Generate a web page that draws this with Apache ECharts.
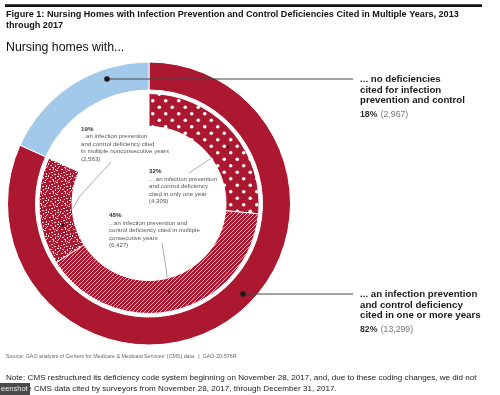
<!DOCTYPE html>
<html>
<head>
<meta charset="utf-8">
<script src="https://cdn.jsdelivr.net/npm/echarts@6/dist/echarts.min.js"></script>
<style>
html,body{margin:0;padding:0;background:#fff;}
#chart{width:500px;height:395px;}
</style>
</head>
<body>
<div id="chart"></div>
<script>
// ---------- data ----------
const titleText = 'Figure 1: Nursing Homes with Infection Prevention and Control Deficiencies Cited in Multiple Years, 2013\nthrough 2017';
const subtitleText = 'Nursing homes with...';
const sourceText = "Source: GAO analysis of Centers for Medicare & Medicaid Services' (CMS) data.  |  GAO-20-576R";
const noteText = 'Note: CMS restructured its deficiency code system beginning on November 28, 2017, and, due to these coding changes, we did not\ninclude CMS data cited by surveyors from November 28, 2017, through December 31, 2017.';

const outerCategories = [
  '... an infection prevention\nand control deficiency\ncited in one or more years',
  '... no deficiencies\ncited for infection\nprevention and control'
];
const outerValues = [13299, 2967];

const innerCategories = [
  '... an infection prevention\nand control deficiency\ncited in only one year',
  '...an infection prevention and\ncontrol deficiency cited in multiple\nconsecutive years',
  '...an infection prevention\nand control deficiency cited\nin multiple nonconsecutive years'
];
const innerValues = [4309, 6427, 2563];

// ---------- styling helpers ----------
const RED = '#AB1830';
const BLUE = '#A2C8EA';
const CX = 149, CY = 203.5;

function makeTile(w, h, draw) {
  const c = document.createElement('canvas');
  c.width = w; c.height = h;
  const ctx = c.getContext('2d');
  ctx.fillStyle = RED;
  ctx.fillRect(0, 0, w, h);
  draw(ctx);
  return c;
}
const dotsTile = makeTile(13, 13, ctx => {
  ctx.fillStyle = '#fff';
  [[3.25, 3.25], [9.75, 9.75]].forEach(p => {
    ctx.beginPath(); ctx.arc(p[0], p[1], 1.8, 0, Math.PI * 2); ctx.fill();
  });
});
const stripeTile = makeTile(4, 4, ctx => {
  ctx.strokeStyle = 'rgba(255,215,222,0.95)';
  ctx.lineWidth = 0.9;
  [[-1, 1, 1, -1], [0, 4, 4, 0], [3, 5, 5, 3]].forEach(s => {
    ctx.beginPath(); ctx.moveTo(s[0], s[1]); ctx.lineTo(s[2], s[3]); ctx.stroke();
  });
});
const speckleTile = makeTile(12, 12, ctx => {
  ctx.fillStyle = 'rgba(255,232,236,0.9)';
  [[1,1,2,1],[5,0,1,2],[8,2,2,1],[10,5,1,2],[3,4,2,1],[6,6,2,1],[0,7,1,2],[2,9,2,1],[7,9,1,2],[9,8,2,1],[4,11,2,1],[11,10,1,1],[6,3,1,1],[1,5,1,1],[9,0,1,1],[4,7,1,1],[10,11,1,1],[7,1,1,1]].forEach(r => ctx.fillRect(r[0], r[1], r[2], r[3]));
});
const innerPatterns = [dotsTile, stripeTile, speckleTile];

const outerTotal = outerValues.reduce((a, b) => a + b, 0);
const innerTotal = innerValues.reduce((a, b) => a + b, 0);
const fmt = v => v.toLocaleString('en-US');

// label layouts (pixel anchors)
const outerLayout = [
  { x: 360, y: 289, line: [[243, 294], [353, 294]] },
  { x: 360, y: 74, line: [[107, 79], [353, 79]] }
];
const innerLayout = [
  { x: 149, y: 168, line: [[228, 147], [210, 159], [189, 173]] },
  { x: 109, y: 212, line: [[169, 292], [166, 268], [162, 243]] },
  { x: 81, y: 125.5, line: [[63, 225], [80, 196], [111, 162]] }
];

const chart = echarts.init(document.getElementById('chart'), null, { renderer: 'canvas' });

const outerData = outerValues.map((v, i) => ({
  value: v,
  name: outerCategories[i],
  itemStyle: { color: i === 0 ? RED : BLUE }
}));

const innerData = innerValues.map((v, i) => ({
  value: v,
  name: innerCategories[i],
  itemStyle: { color: { image: innerPatterns[i], repeat: 'repeat' } }
}));
// empty part of the inner ring matching the "no deficiencies" share
innerData.push({
  value: outerValues[1], name: 'none',
  itemStyle: { color: 'rgba(0,0,0,0)', borderWidth: 0 },
  label: { show: false }, labelLine: { show: false },
  emphasis: { disabled: true }, tooltip: { show: false }
});

const calloutGraphics = [];
outerLayout.forEach(L => {
  calloutGraphics.push({ type: 'polyline', z: 100, shape: { points: L.line }, style: { stroke: '#444', lineWidth: 1, fill: null } });
  calloutGraphics.push({ type: 'circle', z: 101, shape: { cx: L.line[0][0], cy: L.line[0][1], r: 2.8 }, style: { fill: '#1f1a1a' } });
});
innerLayout.forEach(L => {
  calloutGraphics.push({ type: 'circle', z: 101, shape: { cx: L.line[0][0], cy: L.line[0][1], r: 1.4 }, style: { fill: '#2a1416' } });
});

const option = {
  animation: false,
  backgroundColor: '#fff',
  series: [
    {
      type: 'pie',
      center: [CX, CY],
      radius: [113.5, 141.5],
      startAngle: 90,
      clockwise: true,
      silent: true,
      avoidLabelOverlap: false,
      itemStyle: { borderColor: '#fff', borderWidth: 1 },
      data: outerData,
      label: {
        show: true,
        position: 'outside',
        overflow: 'none',
        formatter: p => {
          const lines = p.name.split('\n').map(l => '{t|' + l + '}').join('\n');
          const pct = Math.round(p.value / outerTotal * 100) + '%';
          return lines + '\n{p|' + pct + '} {n|(' + fmt(p.value) + ')}';
        },
        rich: {
          t: { fontFamily: 'Liberation Sans, Arial', fontWeight: 'bold', fontSize: 9.7, lineHeight: 10.7, color: '#1a1a1a' },
          p: { fontFamily: 'Liberation Sans, Arial', fontWeight: 'bold', fontSize: 8.7, lineHeight: 17, color: '#333' },
          n: { fontFamily: 'Liberation Sans, Arial', fontSize: 8.7, lineHeight: 17, color: '#777' }
        }
      },
      labelLine: { show: false },
      labelLayout: params => {
        const L = outerLayout[params.dataIndex];
        return { x: L.x, y: L.y, align: 'left', verticalAlign: 'top' };
      }
    },
    {
      type: 'pie',
      center: [CX, CY],
      radius: [77, 110],
      startAngle: 90,
      clockwise: true,
      silent: true,
      avoidLabelOverlap: false,
      itemStyle: { borderColor: '#fff', borderWidth: 1 },
      data: innerData,
      label: {
        show: true,
        position: 'outside',
        overflow: 'none',
        formatter: p => {
          const lines = p.name.split('\n').map(l => '{t|' + l + '}').join('\n');
          const pct = Math.round(p.value / innerTotal * 100) + '%';
          return '{p|' + pct + '}\n' + lines + '\n{t|(' + fmt(p.value) + ')}';
        },
        rich: {
          p: { fontFamily: 'Liberation Sans, Arial', fontWeight: 'bold', fontSize: 6.2, lineHeight: 7.5, color: '#333' },
          t: { fontFamily: 'Liberation Sans, Arial', fontSize: 6.1, lineHeight: 7.5, color: '#555' }
        }
      },
      labelLine: { show: true, lineStyle: { color: '#8a8a8a', width: 0.7 } },
      labelLayout: params => {
        const L = innerLayout[params.dataIndex];
        if (!L) return {};
        return { x: L.x, y: L.y, align: 'left', verticalAlign: 'top', labelLinePoints: L.line };
      }
    }
  ],
  graphic: [
    { type: 'rect', shape: { x: 5, y: 4.3, width: 477, height: 2.6 }, style: { fill: '#111' } },
    { type: 'text', x: 6, y: 9.5, style: { text: titleText, font: 'bold 9.1px "Liberation Sans", Arial', fill: '#111', lineHeight: 10.5 } },
    { type: 'text', x: 6, y: 41.5, style: { text: subtitleText, font: '12.3px "Liberation Sans", Arial', fill: '#111' } },
    ...calloutGraphics,
    { type: 'text', x: 6, y: 354.5, style: { text: sourceText, font: '5.3px "Liberation Sans", Arial', fill: '#666' } },
    { type: 'text', x: 6, y: 372, style: { text: noteText, font: '8.1px "Liberation Sans", Arial', fill: '#222', lineHeight: 11.5 } },
    { type: 'rect', shape: { x: 0, y: 383, width: 30, height: 12 }, style: { fill: '#4a4a4a' }, z: 200 },
    { type: 'text', x: 1, y: 385, z: 201, style: { text: 'eenshot', font: '7.5px "Liberation Sans", Arial', fill: '#eee' } }
  ]
};
chart.setOption(option);
</script>
</body>
</html>
